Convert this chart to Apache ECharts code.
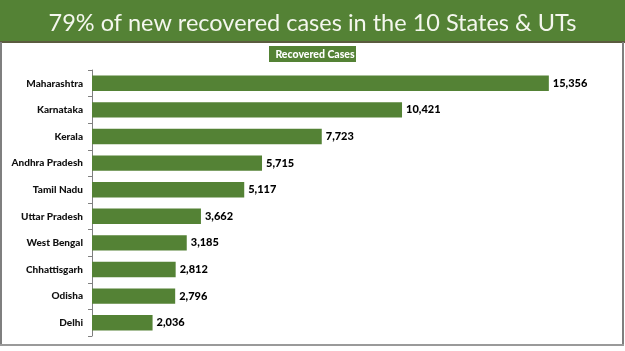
<!DOCTYPE html>
<html>
<head>
<meta charset="utf-8">
<script src="https://cdn.jsdelivr.net/npm/echarts@6/dist/echarts.min.js"></script>
<style>
  html, body { margin: 0; padding: 0; background: #fff; }
  #chart { width: 625px; height: 351px; }
</style>
</head>
<body>
<div id="chart"></div>
<script>
// data
var states = ['Maharashtra', 'Karnataka', 'Kerala', 'Andhra Pradesh', 'Tamil Nadu',
  'Uttar Pradesh', 'West Bengal', 'Chhattisgarh', 'Odisha', 'Delhi']
var recovered = [15356, 10421, 7723, 5715, 5117, 3662, 3185, 2812, 2796, 2036]
var seriesName = 'Recovered Cases'
var titleText = '79% of new recovered cases in the 10 States & UTs'

var green = '#548235'
var chart = echarts.init(document.getElementById('chart'))

chart.setOption({
  animation: false,
  title: {
    text: titleText,
    left: 'center',
    top: 6,
    textStyle: { color: '#f4f7ee', fontFamily: 'Lato', fontWeight: 'normal', fontSize: 23.5 }
  },
  graphic: [
    // title band
    { type: 'rect', z: -1, shape: { x: 0, y: 0, width: 625, height: 42 }, style: { fill: green } },
    { type: 'rect', z: -1, shape: { x: 0, y: 41, width: 625, height: 2 }, style: { fill: '#5b5b3f' } },
    // panel border
    { type: 'rect', z: -1, shape: { x: 0, y: 42, width: 2, height: 304 }, style: { fill: '#7f7f7f' } },
    { type: 'rect', z: -1, shape: { x: 622, y: 42, width: 2, height: 304 }, style: { fill: '#7f7f7f' } },
    { type: 'rect', z: -1, shape: { x: 0, y: 344, width: 624, height: 2 }, style: { fill: '#9a9a9a' } },
    // legend box
    { type: 'rect', shape: { x: 269, y: 46, width: 87, height: 16 }, style: { fill: green } }
  ],
  legend: {
    data: [seriesName],
    top: 47.5,
    left: 'center',
    icon: 'none',
    itemWidth: 0,
    itemGap: 0,
    padding: 0,
    textStyle: { color: '#fff', fontFamily: 'Lato', fontWeight: 900, fontSize: 10.5 }
  },
  grid: { left: 92, right: 57, top: 70, bottom: 15, containLabel: false },
  xAxis: {
    type: 'value',
    min: 0,
    max: 16000,
    show: false
  },
  yAxis: {
    type: 'category',
    inverse: true,
    data: states,
    axisLine: { show: true, lineStyle: { color: '#808080', width: 1 } },
    axisTick: { show: true, length: 4, lineStyle: { color: '#808080' } },
    axisLabel: { margin: 9, color: '#111', fontFamily: 'Lato', fontWeight: 900, fontSize: 10 }
  },
  series: [{
    name: seriesName,
    type: 'bar',
    data: recovered,
    barWidth: '58%',
    itemStyle: { color: green },
    label: {
      show: true,
      position: 'right',
      distance: 4,
      color: '#000',
      fontFamily: 'Lato',
      fontWeight: 900,
      fontSize: 11,
      formatter: function (p) { return p.value.toLocaleString('en-US') }
    }
  }]
})
</script>
</body>
</html>
